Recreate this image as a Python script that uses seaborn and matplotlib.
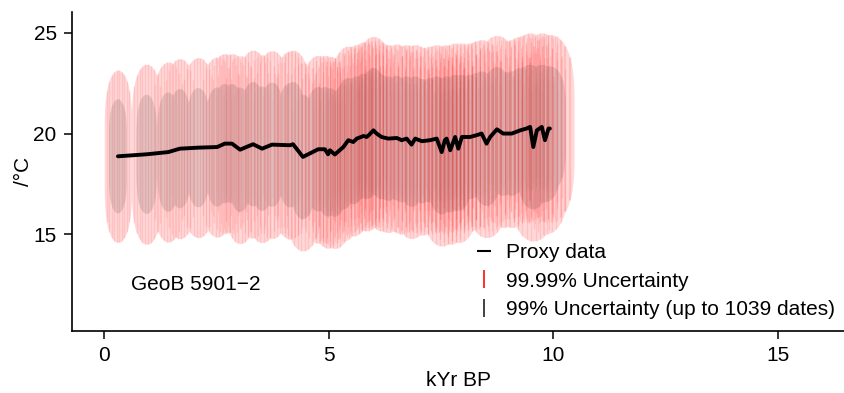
import numpy as np
import matplotlib
matplotlib.use("Agg")
import matplotlib.pyplot as plt
from matplotlib.lines import Line2D
import seaborn as sns

# Proxy record GeoB 5901-2: sample ages (kyr BP) and reconstructed temperature (degC)
age = [0.31, 0.95, 1.43, 1.69, 2.10, 2.52, 2.69, 2.85, 3.03, 3.32, 3.52, 3.74,
       4.14, 4.21, 4.43, 4.77, 4.92, 4.99, 5.03, 5.14, 5.33, 5.44, 5.55, 5.63,
       5.78, 5.85, 5.91, 6.00, 6.07, 6.18, 6.33, 6.52, 6.63, 6.74, 6.85, 6.93,
       7.08, 7.26, 7.41, 7.52, 7.59, 7.63, 7.71, 7.82, 7.89, 7.97, 8.15, 8.30,
       8.41, 8.52, 8.60, 8.75, 8.89, 9.08, 9.27, 9.41, 9.49, 9.56, 9.64, 9.75,
       9.82, 9.90, 9.93]
temp = [18.87, 18.97, 19.08, 19.25, 19.30, 19.33, 19.50, 19.50, 19.20, 19.47,
        19.25, 19.45, 19.42, 19.47, 18.84, 19.22, 19.22, 18.97, 19.17, 18.96,
        19.33, 19.67, 19.58, 19.75, 19.88, 19.83, 19.95, 20.16, 20.00, 19.83,
        19.75, 19.78, 19.67, 19.75, 19.45, 19.75, 19.62, 19.67, 19.75, 19.08,
        19.67, 19.75, 19.17, 19.83, 19.25, 19.83, 19.83, 19.92, 20.00, 19.50,
        19.83, 20.21, 20.00, 20.00, 20.16, 20.25, 20.33, 19.33, 20.16, 20.33,
        19.67, 20.25, 20.25]
# 1-sigma age-model and calibration uncertainties for each sample
age_sd = ([0.080, 0.090] + [0.095] * 2 + [0.100] * 5 + [0.105] * 5 + [0.110] * 7
          + [0.115] * 9 + [0.120] * 9 + [0.125] * 9 + [0.130] * 6 + [0.140] * 9)
temp_sd = [1.10] + [1.15] * 7 + [1.20] * 55

Z_9999 = 3.89   # 99.99 % interval
Z_99 = 2.576    # 99 % interval

x_ticks = [0, 5, 10, 15]
y_ticks = [15, 20, 25]
site_label = "GeoB 5901\u22122"
legend_labels = ["Proxy data", "99.99% Uncertainty", "99% Uncertainty (up to 1039 dates)"]

sns.set_style("ticks")
plt.rcParams["font.family"] = ["Liberation Sans", "DejaVu Sans"]
plt.rcParams["font.size"] = 15
plt.rcParams["text.color"] = "black"
plt.rcParams["axes.labelcolor"] = "black"

fig = plt.figure(figsize=(8.44, 3.93), dpi=100)
ax = fig.add_axes([72 / 844, 1 - 331 / 393, (844 - 72) / 844, (331 - 12) / 393])

SHAPE = 0.25   # squareness of each sample's uncertainty cloud


def envelope(z):
    """Outer hull of the per-sample uncertainty clouds at interval z."""
    a = np.asarray(age)
    t = np.asarray(temp)
    sa = z * np.asarray(age_sd)
    st = z * np.asarray(temp_sd)
    xg = np.linspace((a - sa).min(), (a + sa).max(), 2000)
    u = (xg[None, :] - a[:, None]) / sa[:, None]
    inside = np.abs(u) < 1
    half = st[:, None] * np.clip(1 - u ** 2, 0, None) ** SHAPE
    top = np.where(inside, t[:, None] + half, -np.inf).max(axis=0)
    bot = np.where(inside, t[:, None] - half, np.inf).min(axis=0)
    ok = np.isfinite(top)
    return xg, np.where(ok, bot, np.nan), np.where(ok, top, np.nan)


def strokes(z, color, alpha, n):
    """Thin vertical strokes for every sample, spread over its age range."""
    u = np.linspace(-1, 1, n + 2)[1:-1]
    xs, lo, hi = [], [], []
    for a, t, sa, st in zip(age, temp, age_sd, temp_sd):
        half = z * st * (1 - u ** 2) ** SHAPE
        xs.append(a + u * z * sa)
        lo.append(t - half)
        hi.append(t + half)
    ax.vlines(np.concatenate(xs), np.concatenate(lo), np.concatenate(hi),
              colors=color, alpha=alpha, linewidths=1.0, zorder=1)


# 99.99 % cloud
xg, lo, hi = envelope(Z_9999)
ax.fill_between(xg, lo, hi, color="#ff0000", alpha=0.15, linewidth=0, zorder=1)
strokes(Z_9999, "#ff0000", 0.10, 10)

# 99 % cloud
xg, lo, hi = envelope(Z_99)
ax.fill_between(xg, lo, hi, color="#000000", alpha=0.10, linewidth=0, zorder=2)
strokes(Z_99, "#000000", 0.016, 8)

sns.lineplot(x=age, y=temp, ax=ax, color="black", linewidth=2.8,
             estimator=None, sort=False, zorder=3)

ax.text(0.6, 12.5, site_label, fontsize=15, ha="left", va="center")

handles = [
    Line2D([], [], color="black", marker="_", linestyle="None", markersize=10, markeredgewidth=1.5),
    Line2D([], [], color="#ff2020", marker="|", linestyle="None", markersize=13, markeredgewidth=1.3),
    Line2D([], [], color="#333333", marker="|", linestyle="None", markersize=13, markeredgewidth=1.3),
]
ax.legend(handles, legend_labels, loc="upper left", frameon=False,
          bbox_to_anchor=(474 / 844, 1 - 243 / 393), bbox_transform=fig.transFigure,
          borderpad=0, borderaxespad=0, handlelength=1.0, handletextpad=0.55,
          labelspacing=0.46, fontsize=15)

ax.set_xlim(-0.713, 16.48)
ax.set_ylim(10.19, 26.04)
ax.set_xticks(x_ticks)
ax.set_yticks(y_ticks)
ax.set_xlabel("kYr BP", fontsize=15, labelpad=4)
ax.set_ylabel("/\u00b0C", fontsize=15, labelpad=0)
for side in ("top", "right"):
    ax.spines[side].set_visible(False)
for side in ("left", "bottom"):
    ax.spines[side].set_linewidth(1.2)
    ax.spines[side].set_color("black")
ax.tick_params(axis="both", direction="out", length=6, width=1.1, pad=5,
               labelsize=15, color="black", labelcolor="black")

fig.savefig("out.png", dpi=100)
